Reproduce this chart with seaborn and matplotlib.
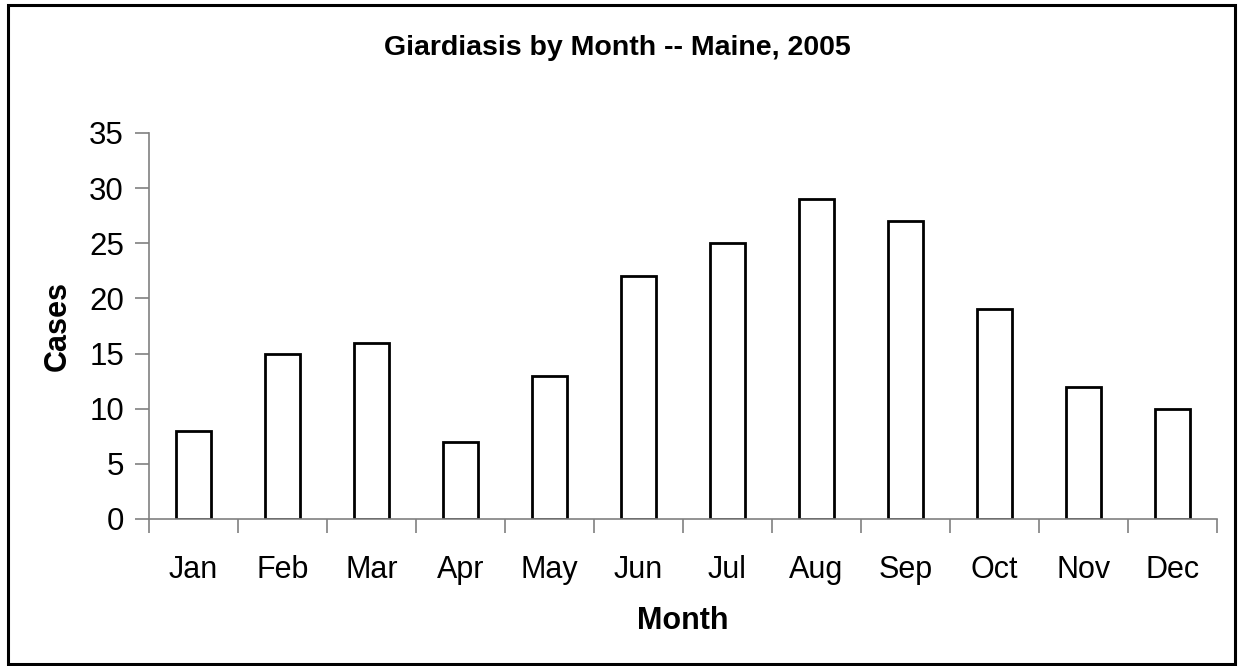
import matplotlib
matplotlib.use("Agg")
import matplotlib.pyplot as plt
import seaborn as sns
import pandas as pd
from matplotlib.patches import Rectangle
from matplotlib.ticker import FixedLocator

months = ["Jan", "Feb", "Mar", "Apr", "May", "Jun",
          "Jul", "Aug", "Sep", "Oct", "Nov", "Dec"]
cases = [8, 15, 16, 7, 13, 22, 25, 29, 27, 19, 12, 10]
y_ticks = [0, 5, 10, 15, 20, 25, 30, 35]

sns.set_theme(style="white")
plt.rcParams["font.family"] = ["Liberation Sans", "DejaVu Sans"]
plt.rcParams["text.color"] = "black"

df = pd.DataFrame({"Month": months, "Cases": cases})

fig = plt.figure(figsize=(12.38, 6.66), dpi=100)
ax = fig.add_axes([149 / 1238, 147 / 666, (1217 - 149) / 1238, (519 - 133) / 666])

sns.barplot(data=df, x="Month", y="Cases", color="white", edgecolor="black",
            linewidth=2, width=0.39, saturation=1, ax=ax)

ax.set_xlim(-0.5, len(months) - 0.5)
ax.set_ylim(0, 35)
ax.set_yticks(y_ticks)
ax.set_yticklabels([str(t) for t in y_ticks], fontsize=22.5)
ax.set_xticklabels(months, fontsize=22)

# labels sit at bar centres, tick marks sit between categories
ax.xaxis.set_minor_locator(FixedLocator([i - 0.5 for i in range(len(months) + 1)]))
ax.tick_params(axis="x", which="major", length=0, pad=26)
ax.tick_params(axis="x", which="minor", length=10, width=1.2, color="#808080", direction="out", bottom=True)
ax.tick_params(axis="y", length=10, width=1.2, color="#808080", direction="out", pad=8, left=True)
ax.tick_params(labelcolor="black")

for side in ["top", "right"]:
    ax.spines[side].set_visible(False)
for side in ["left", "bottom"]:
    ax.spines[side].set_color("#808080")
    ax.spines[side].set_linewidth(1.2)

ax.set_xlabel("")
ax.set_ylabel("")
fig.text(683 / 1238, 1 - 621 / 666, "Month", fontsize=22, fontweight="bold", ha="center", va="center", color="black")
fig.text(58 / 1238, 1 - 326 / 666, "Cases", fontsize=22, fontweight="bold", ha="center", va="center",
         rotation=90, color="black")
fig.text(617 / 1238, 1 - 48 / 666, "Giardiasis by Month -- Maine, 2005", fontsize=20.5,
         fontweight="bold", ha="center", va="center", color="black")

# outer frame around the whole chart
fig.patches.append(Rectangle((8 / 1238, 2 / 666), 1227 / 1238, 659 / 666, transform=fig.transFigure,
                             fill=False, edgecolor="black", linewidth=2.2))

fig.savefig("out.png", dpi=100)
